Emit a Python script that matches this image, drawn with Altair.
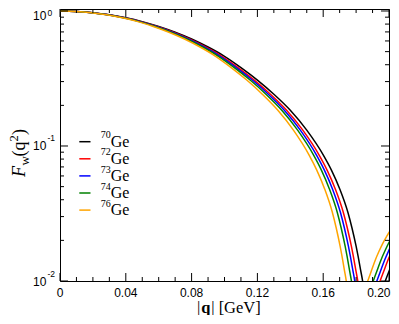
import altair as alt
import pandas as pd

# ---------------- data ----------------
isotopes = ["70Ge", "72Ge", "73Ge", "74Ge", "76Ge"]
mass_numbers = ["70", "72", "73", "74", "76"]
colors = ["#000000", "#ff0000", "#0000ff", "#008000", "#ffa500"]

form_factor = [1.0, 0.993, 0.972, 0.937, 0.891, 0.834, 0.768, 0.696, 0.620, 0.541,
               0.462, 0.381, 0.308, 0.242, 0.184, 0.131, 0.0860, 0.0663, 0.0483, 0.0323,
               0.0247, 0.0181, 0.0125, 0.0080, 0.0030, 0.0030, 0.0058, 0.0079, 0.0098, 0.0118,
               0.0142, 0.0166, 0.0191, 0.0215, 0.0240]

q_70 = [0, 0.01, 0.02, 0.03, 0.04, 0.05, 0.06, 0.07, 0.08, 0.09, 0.10, 0.11, 0.12, 0.13,
        0.14, 0.15, 0.16, 0.165, 0.17, 0.175, 0.1775, 0.18, 0.1825, 0.185, 0.1875, 0.19,
        0.1925, 0.195, 0.1975, 0.2, 0.2025, 0.205, 0.2075, 0.21, 0.2125]
q_72 = [0, 0.00984, 0.01968, 0.02952, 0.03936, 0.0492, 0.05904, 0.06888, 0.07872, 0.08856,
        0.0984, 0.10824, 0.11808, 0.12792, 0.13776, 0.1476, 0.15744, 0.16236, 0.16728, 0.1722,
        0.17466, 0.17712, 0.17958, 0.18204, 0.1845, 0.18696, 0.18942, 0.19188, 0.19434, 0.1968,
        0.19926, 0.20172, 0.20418, 0.20664, 0.2091]
q_73 = [0, 0.00974, 0.01948, 0.02922, 0.03896, 0.0487, 0.05844, 0.06818, 0.07792, 0.08766,
        0.0974, 0.10714, 0.11688, 0.12662, 0.13636, 0.1461, 0.15584, 0.16071, 0.16558, 0.17045,
        0.17289, 0.17532, 0.17776, 0.18019, 0.18263, 0.18506, 0.1875, 0.18993, 0.19237, 0.1948,
        0.19724, 0.19967, 0.20211, 0.20454, 0.20698]
q_74 = [0, 0.00963, 0.01926, 0.02889, 0.03852, 0.04815, 0.05778, 0.06741, 0.07704, 0.08667,
        0.0963, 0.10593, 0.11556, 0.12519, 0.13482, 0.14445, 0.15408, 0.1589, 0.16371, 0.16853,
        0.17093, 0.17334, 0.17575, 0.17816, 0.18056, 0.18297, 0.18538, 0.18779, 0.19019, 0.1926,
        0.19501, 0.19742, 0.19982, 0.20223, 0.20464]
q_76 = [0, 0.00946, 0.01892, 0.02838, 0.03784, 0.0473, 0.05676, 0.06622, 0.07568, 0.08514,
        0.0946, 0.10406, 0.11352, 0.12298, 0.13244, 0.1419, 0.15136, 0.15609, 0.16082, 0.16555,
        0.16792, 0.17028, 0.17265, 0.17501, 0.17738, 0.17974, 0.18211, 0.18447, 0.18684, 0.1892,
        0.19157, 0.19393, 0.1963, 0.19866, 0.20103]

x_major = [0, 0.04, 0.08, 0.12, 0.16, 0.20]
x_tick_labels = ["0", "0.04", "0.08", "0.12", "0.16", "0.20"]
x_minor = [0.01, 0.02, 0.03, 0.05, 0.06, 0.07, 0.09, 0.10, 0.11, 0.13, 0.14, 0.15,
           0.17, 0.18, 0.19]
y_major = [0.01, 0.1, 1.0]
y_exponents = ["-2", "-1", "0"]
y_minor = [0.02, 0.03, 0.04, 0.05, 0.06, 0.07, 0.08, 0.09,
           0.2, 0.3, 0.4, 0.5, 0.6, 0.7, 0.8, 0.9]

# ---------------- tables ----------------
q_lists = [q_70, q_72, q_73, q_74, q_76]
rows = []
for iso, qs in zip(isotopes, q_lists):
    for q, f in zip(qs, form_factor):
        rows.append({"isotope": iso, "q": q, "F": f})
curves_df = pd.DataFrame(rows)

W, H = 329, 272
SERIF = "Liberation Serif"
SANS = "Liberation Sans"

xs = alt.Scale(domain=[0, 0.2], nice=False, zero=False)
ys = alt.Scale(type="log", domain=[0.01, 1.0347], nice=False)

curves = alt.Chart(curves_df).mark_line(
    clip=True, strokeWidth=1.5, interpolate="monotone"
).encode(
    x=alt.X("q:Q", scale=xs, axis=None),
    y=alt.Y("F:Q", scale=ys, axis=None),
    color=alt.Color("isotope:N", scale=alt.Scale(domain=isotopes, range=colors), legend=None),
)

xmaj_df = pd.DataFrame({"v": x_major, "t": x_tick_labels})
xmin_df = pd.DataFrame({"v": x_minor})
ymaj_df = pd.DataFrame({"v": y_major, "e": y_exponents})
ymin_df = pd.DataFrame({"v": y_minor})


def xticks(df, length):
    bottom = alt.Chart(df).mark_rule(color="black", strokeWidth=1).encode(
        x=alt.X("v:Q", scale=xs, axis=None), y=alt.value(H), y2=alt.value(H - length))
    top = alt.Chart(df).mark_rule(color="black", strokeWidth=1).encode(
        x=alt.X("v:Q", scale=xs, axis=None), y=alt.value(0), y2=alt.value(length))
    return [bottom, top]


def yticks(df, length):
    left = alt.Chart(df).mark_rule(color="black", strokeWidth=1).encode(
        y=alt.Y("v:Q", scale=ys, axis=None), x=alt.value(0), x2=alt.value(length))
    right = alt.Chart(df).mark_rule(color="black", strokeWidth=1).encode(
        y=alt.Y("v:Q", scale=ys, axis=None), x=alt.value(W), x2=alt.value(W - length))
    return [left, right]


tick_layers = xticks(xmaj_df, 8) + xticks(xmin_df, 4) + yticks(ymaj_df, 8) + yticks(ymin_df, 4)

xlab_base = alt.Chart(xmaj_df)
xlabels = [
    xlab_base.transform_filter(alt.datum.v < 0.19).mark_text(
        font=SANS, fontSize=12, baseline="alphabetic", align="center", color="black"
    ).encode(x=alt.X("v:Q", scale=xs, axis=None), y=alt.value(287.5), text="t:N"),
    xlab_base.transform_filter(alt.datum.v > 0.19).mark_text(
        font=SANS, fontSize=12, baseline="alphabetic", align="right", dx=1.5, color="black"
    ).encode(x=alt.X("v:Q", scale=xs, axis=None), y=alt.value(287.5), text="t:N"),
]

ylab_low = alt.Chart(ymaj_df).transform_filter(alt.datum.v < 0.5)
ylab_top = alt.Chart(ymaj_df).transform_filter(alt.datum.v > 0.5)
ylabels = [
    ylab_low.mark_text(text="10", font=SANS, fontSize=12, baseline="alphabetic",
                       align="left", dy=4.5, color="black").encode(
        y=alt.Y("v:Q", scale=ys, axis=None), x=alt.value(-27)),
    ylab_low.mark_text(font=SANS, fontSize=8.5, baseline="alphabetic",
                       align="left", dy=-4.5, color="black").encode(
        y=alt.Y("v:Q", scale=ys, axis=None), x=alt.value(-12.5), text="e:N"),
    ylab_top.mark_text(text="10", font=SANS, fontSize=12, baseline="alphabetic",
                       align="left", dy=9.5, color="black").encode(
        y=alt.Y("v:Q", scale=ys, axis=None), x=alt.value(-27)),
    ylab_top.mark_text(font=SANS, fontSize=8.5, baseline="alphabetic",
                       align="left", dy=5, color="black").encode(
        y=alt.Y("v:Q", scale=ys, axis=None), x=alt.value(-12.5), text="e:N"),
]

one = pd.DataFrame({"a": [0]})


def txt(s, x, y, size, **kw):
    return alt.Chart(one).mark_text(
        fontSize=size, baseline="alphabetic", align="left", color="black", **kw
    ).encode(x=alt.value(x), y=alt.value(y), text=alt.value(s))


# x title: |q| [GeV]  (q bold)
xtitle = [
    txt("|", 137, 303.5, 16.5, font=SERIF),
    txt("q", 141.2, 303.5, 16.5, font=SERIF, fontWeight="bold"),
    txt("| [GeV]", 151.2, 303.5, 16.5, font=SERIF),
]

# y title: F_w(q^2), rotated
ytitle = [
    txt("F", -35, 168, 18, font=SERIF, fontStyle="italic", angle=270),
    txt("w", -31, 156.5, 13, font=SERIF, angle=270),
    txt("(q", -35, 147.5, 18, font=SERIF, angle=270),
    txt("2", -42.5, 132.5, 12.5, font=SERIF, angle=270),
    txt(")", -35, 126, 18, font=SERIF, angle=270),
]

# legend
legend_rows = [132.7, 149.8, 166.9, 184.0, 201.1]
legend_layers = []
for m, c, ry in zip(mass_numbers, colors, legend_rows):
    legend_layers.append(
        alt.Chart(one).mark_rule(color=c, strokeWidth=1.5).encode(
            x=alt.value(19.3), x2=alt.value(30.5), y=alt.value(ry)))
    legend_layers.append(txt(m, 40.7, ry - 3.4, 10, font=SERIF))
    legend_layers.append(txt("Ge", 50.7, ry + 5, 16, font=SERIF))

chart = alt.layer(
    curves, *tick_layers, *xlabels, *ylabels, *xtitle, *ytitle, *legend_layers
).properties(
    width=W, height=H,
    padding={"left": 52, "top": 1, "right": 2, "bottom": 34},
    autosize=alt.AutoSizeParams(type="none"),
).configure_view(stroke="black", strokeWidth=1)

chart.save("out.html", embed_options={"renderer": "svg", "actions": False})
